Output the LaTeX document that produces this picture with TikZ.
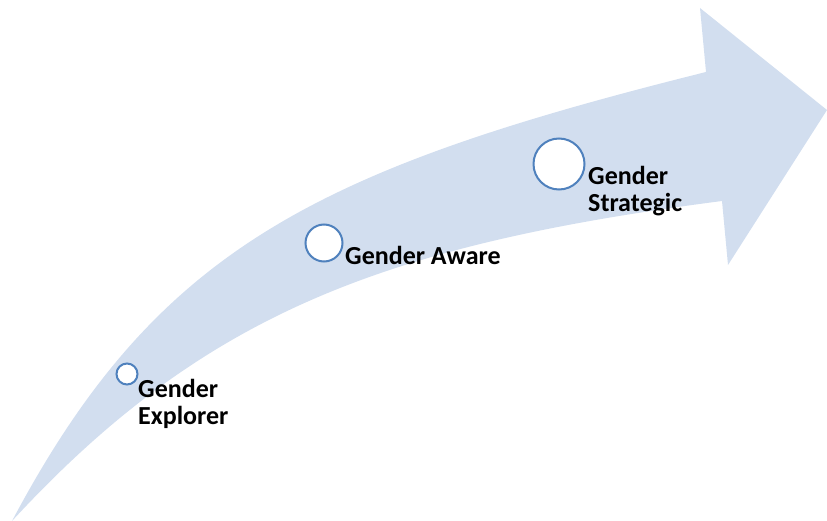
\documentclass[tikz,border=0pt]{standalone}
\usepackage{fontspec}
\setmainfont{Carlito}
\usetikzlibrary{positioning}
\definecolor{arrowfill}{RGB}{210,222,239}
\definecolor{ringblue}{RGB}{79,129,189}
\tikzset{
	stage/.style={
		circle,
		draw=ringblue, line width=2pt,
		fill=white,
		inner sep=0pt},
	stagetext/.style={
		anchor=base west,
		align=left,
		inner sep=0pt,
		font=\fontsize{26}{27}\selectfont\bfseries},
}

\begin{document}
\begin{tikzpicture}
[x=1pt, y=-1pt]
\useasboundingbox (0,0) rectangle (827,521);
% the curved arrow
\fill[arrowfill] (12,521) .. controls (156,250) and (313,170) .. (706,72)
	-- (700,8) -- (827,110) -- (728,265) -- (722,201)
	.. controls (383,245) and (203,314) .. (12,521) -- cycle;
% stages
\node[stage, minimum size=21pt] (explorer) at (127,374) {};
\node[stage, minimum size=37pt] (aware) at (324,243) {};
\node[stage, minimum size=51pt] (strategic) at (559,164) {};
\node[stagetext] (explorertext) at (138,424) {Gender\\Explorer};
\node[stagetext] (awaretext) at (345,265) {Gender Aware};
\node[stagetext] (strategictext) at (588,212) {Gender\\Strategic};
\end{tikzpicture}
\end{document}
